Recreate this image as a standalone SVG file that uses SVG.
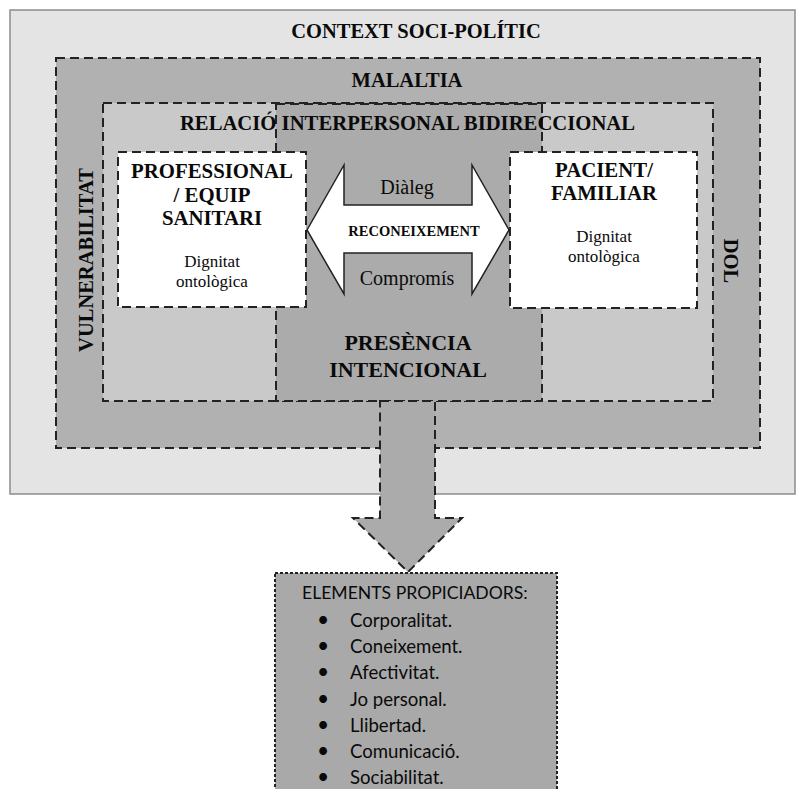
<svg xmlns="http://www.w3.org/2000/svg" width="799" height="789" viewBox="0 0 799 789">
<style>
.dash{stroke:#222;stroke-width:2;stroke-dasharray:9 5;}
.serif{font-family:"Liberation Serif","Times New Roman",serif;fill:#0a0a0a;}
.b{font-weight:bold;}
.sans{font-family:Lato,"Open Sans",sans-serif;fill:#0a0a0a;}
</style>
<rect width="799" height="789" fill="#ffffff"/>
<g id="context">
<rect x="10" y="10" width="785" height="484" fill="#e4e4e4" stroke="#8c8c8c" stroke-width="1.5"/>
<text class="serif b" x="416" y="38" font-size="20.5" text-anchor="middle">CONTEXT SOCI-POLÍTIC</text>
</g>
<g id="malaltia">
<rect class="dash" x="56" y="58" width="704" height="390" fill="#b1b1b1"/>
<text class="serif b" x="407" y="87" font-size="20.5" text-anchor="middle">MALALTIA</text>
<text class="serif b" font-size="20.5" text-anchor="middle" transform="translate(93,260) rotate(-90)">VULNERABILITAT</text>
<text class="serif b" font-size="20.5" text-anchor="middle" transform="translate(724,261) rotate(90)">DOL</text>
</g>
<g id="relacio">
<rect class="dash" x="103" y="103" width="610" height="298" fill="#c9c9c9"/>
</g>
<g id="presencia">
<rect class="dash" x="276" y="104" width="266" height="297" fill="#ababab"/>
<text class="serif b" x="408" y="350" font-size="22" text-anchor="middle">PRESÈNCIA</text>
<text class="serif b" x="408" y="377" font-size="22" text-anchor="middle">INTENCIONAL</text>
</g>
<text id="relacio-label" class="serif b" x="407.5" y="130" font-size="20.7" text-anchor="middle">RELACIÓ INTERPERSONAL BIDIRECCIONAL</text>
<g id="professional">
<rect class="dash" x="118" y="152" width="188" height="155" fill="#ffffff"/>
<text class="serif b" x="212" y="178" font-size="20.8" text-anchor="middle">PROFESSIONAL</text>
<text class="serif b" x="212" y="202" font-size="20.8" text-anchor="middle">/ EQUIP</text>
<text class="serif b" x="212" y="225" font-size="20.8" text-anchor="middle">SANITARI</text>
<text class="serif" x="212" y="267" font-size="17" text-anchor="middle">Dignitat</text>
<text class="serif" x="212" y="287" font-size="17" text-anchor="middle">ontològica</text>
</g>
<g id="pacient">
<rect class="dash" x="510" y="152" width="187" height="156" fill="#ffffff"/>
<text class="serif b" x="604" y="177" font-size="20.8" text-anchor="middle">PACIENT/</text>
<text class="serif b" x="604" y="200" font-size="20.8" text-anchor="middle">FAMILIAR</text>
<text class="serif" x="604" y="242" font-size="17" text-anchor="middle">Dignitat</text>
<text class="serif" x="604" y="262" font-size="17" text-anchor="middle">ontològica</text>
</g>
<g id="connectors">
<polygon points="307,230 344,165 344,205 472,205 472,165 509,230 472,294 472,253 344,253 344,294" fill="#ffffff" stroke="#222" stroke-width="1.5" stroke-linejoin="miter"/>
<text class="serif" x="407" y="194" font-size="20" text-anchor="middle">Diàleg</text>
<text class="serif b" x="414" y="236" font-size="14.5" text-anchor="middle">RECONEIXEMENT</text>
<text class="serif" x="407" y="285" font-size="20" text-anchor="middle">Compromís</text>
<polygon class="dash" points="380,401 435,401 435,518 462,518 408,572 353,518 380,518" fill="#ababab"/>
</g>
<g id="elements">
<rect x="275" y="573" width="282" height="230" fill="#a9a9a9" stroke="#222" stroke-width="2" stroke-dasharray="3 2"/>
<text class="sans" x="302" y="599" font-size="17.6">ELEMENTS PROPICIADORS:</text>
<g class="sans" font-size="18.6">
<text x="323" y="627" font-size="21" text-anchor="middle">•</text><text x="350" y="627">Corporalitat.</text>
<text x="323" y="653" font-size="21" text-anchor="middle">•</text><text x="350" y="653">Coneixement.</text>
<text x="323" y="679" font-size="21" text-anchor="middle">•</text><text x="350" y="679">Afectivitat.</text>
<text x="323" y="706" font-size="21" text-anchor="middle">•</text><text x="350" y="706">Jo personal.</text>
<text x="323" y="732" font-size="21" text-anchor="middle">•</text><text x="350" y="732">Llibertad.</text>
<text x="323" y="758" font-size="21" text-anchor="middle">•</text><text x="350" y="758">Comunicació.</text>
<text x="323" y="784" font-size="21" text-anchor="middle">•</text><text x="350" y="784">Sociabilitat.</text>
</g>
</g>
</svg>
